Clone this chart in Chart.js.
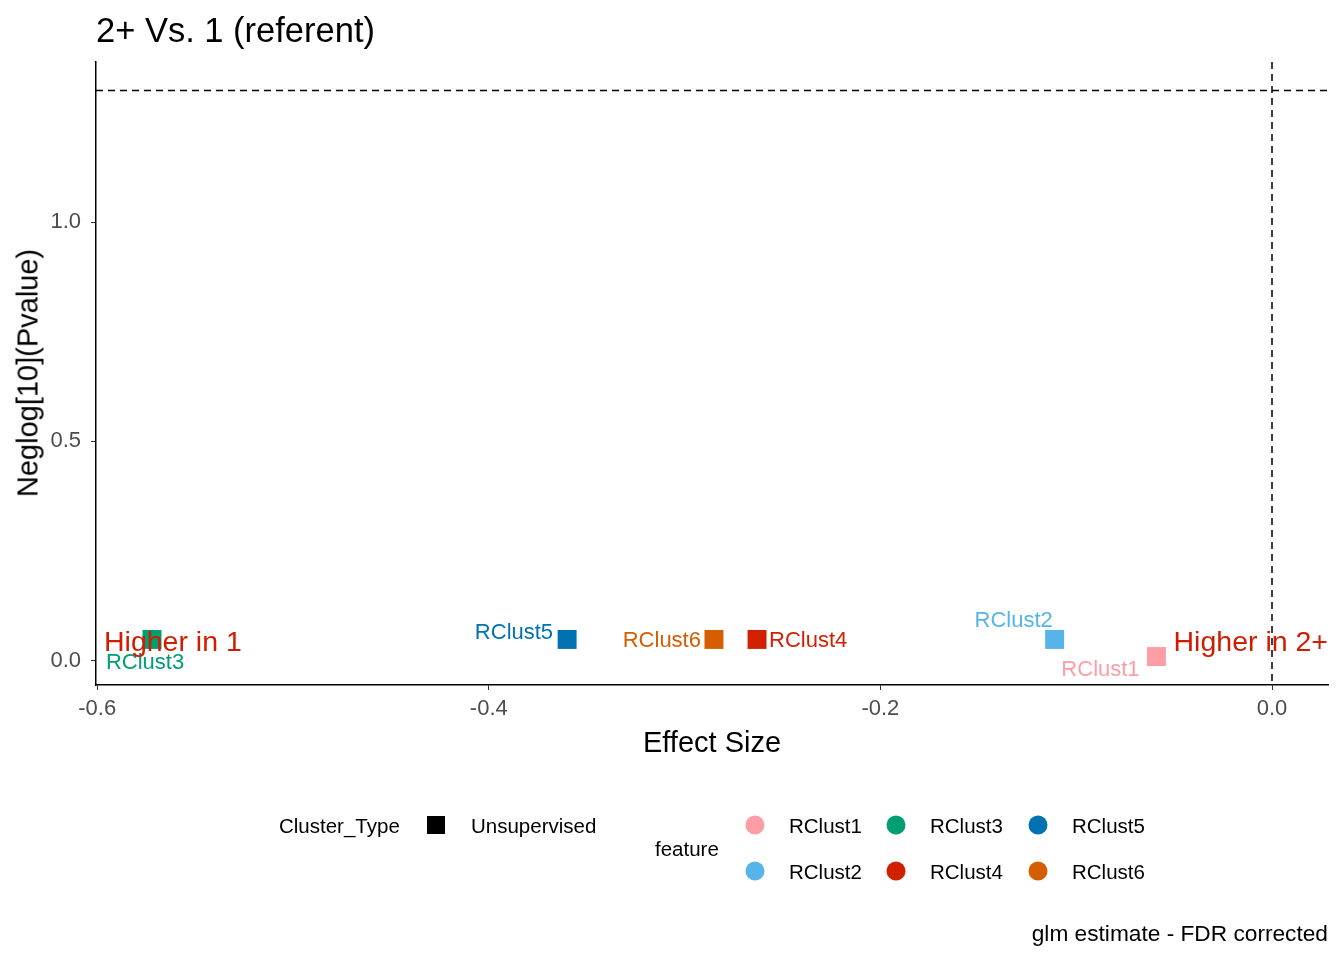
<!DOCTYPE html>
<html lang="en">
<head>
    <meta charset="UTF-8">
    <title>2+ Vs. 1 (referent)</title>
    <script src="https://cdn.jsdelivr.net/npm/chart.js"></script>
    <style>
        body {
            margin: 0;
            background: #fff;
            font-family: "Liberation Sans", Arial, sans-serif;
        }
        .wrap {
            position: relative;
            width: 1344px;
            height: 960px;
        }
        .wrap canvas {
            position: absolute;
            left: 0;
            top: 0;
        }
        .txt {
            position: absolute;
            white-space: nowrap;
            color: #000;
            line-height: 1;
        }
        .plot-title { left: 96px; top: 13px; font-size: 34.5px; }
        .x-title { left: 712px; top: 728px; font-size: 29px; transform: translateX(-50%); }
        .y-title {
            left: 28px; top: 373px; font-size: 29px;
            transform: translate(-50%, -50%) rotate(-90deg);
        }
        .caption { right: 16px; top: 922px; font-size: 22.7px; }
        .lg-text { font-size: 20.5px; transform: translateY(-50%); }
        .lg-box {
            position: absolute; width: 18px; height: 18px; background: #000;
            transform: translate(-50%, -50%);
        }
        .lg-dot {
            position: absolute; width: 19px; height: 19px; border-radius: 50%;
            transform: translate(-50%, -50%);
        }
    </style>
</head>
<body>

<div class="wrap" id="wrap">
    <canvas id="chart" width="1344" height="960"></canvas>
    <div class="txt plot-title">2+ Vs. 1 (referent)</div>
    <div class="txt x-title">Effect Size</div>
    <div class="txt y-title">Neglog[10](Pvalue)</div>
    <div class="txt caption">glm estimate - FDR corrected</div>

    <div class="txt lg-text" style="left:279px; top:826px;">Cluster_Type</div>
    <div class="lg-box" style="left:436px; top:825px;"></div>
    <div class="txt lg-text" style="left:471px; top:826px;">Unsupervised</div>
    <div class="txt lg-text" style="left:655px; top:849px;">feature</div>
    <div id="featureLegend"></div>
</div>

<script>
    // data
    const features = ['RClust1', 'RClust2', 'RClust3', 'RClust4', 'RClust5', 'RClust6'];
    const effectSize = [-0.059, -0.111, -0.572, -0.263, -0.360, -0.285];
    const negLogP = [0.009, 0.048, 0.048, 0.048, 0.048, 0.048];
    const featureColors = ['#FF9DA7', '#56B4E9', '#009E73', '#D21F00', '#0072B2', '#D55E00'];

    const xTicks = [-0.6, -0.4, -0.2, 0.0];
    const yTicks = [0.0, 0.5, 1.0];
    const pCutoff = -Math.log10(0.05);

    // label placement around each point (pixels), like ggrepel did it
    const labelNudge = {
        RClust1: { dx: -56, dy: 13, align: 'center' },
        RClust2: { dx: -41, dy: -18, align: 'center' },
        RClust3: { dx: -7, dy: 24, align: 'center' },
        RClust4: { dx: 12, dy: 2, align: 'left' },
        RClust5: { dx: -14, dy: -6, align: 'right' },
        RClust6: { dx: -13, dy: 2, align: 'right' }
    };

    const FONT = '"Liberation Sans", Arial, sans-serif';
    const textRed = '#D01C00';

    const ctx = document.getElementById('chart').getContext('2d');

    const datasets = features.map((f, i) => ({
        label: f,
        data: [{ x: effectSize[i], y: negLogP[i] }],
        pointStyle: 'rect',
        pointRadius: 13.4,
        pointHoverRadius: 13.4,
        backgroundColor: featureColors[i],
        borderColor: featureColors[i],
        borderWidth: 0
    }));

    const overlay = {
        id: 'overlay',
        beforeDatasetsDraw(chart) {
            const c = chart.ctx;
            const xs = chart.scales.x, ys = chart.scales.y;
            const area = chart.chartArea;
            c.save();
            c.strokeStyle = '#000';
            c.lineWidth = 1.5;
            c.setLineDash([7, 5]);
            const yy = ys.getPixelForValue(pCutoff);
            c.beginPath();
            c.moveTo(area.left, yy);
            c.lineTo(area.right, yy);
            c.stroke();
            const xx = xs.getPixelForValue(0);
            c.beginPath();
            c.moveTo(xx, area.top);
            c.lineTo(xx, area.bottom);
            c.stroke();
            c.restore();
        },
        afterDatasetsDraw(chart) {
            const c = chart.ctx;
            const xs = chart.scales.x, ys = chart.scales.y;
            const area = chart.chartArea;
            c.save();
            c.textBaseline = 'middle';
            c.font = '22px ' + FONT;
            features.forEach((f, i) => {
                const n = labelNudge[f];
                c.fillStyle = featureColors[i];
                c.textAlign = n.align;
                c.fillText(f, xs.getPixelForValue(effectSize[i]) + n.dx, ys.getPixelForValue(negLogP[i]) + n.dy);
            });
            c.font = '28.5px ' + FONT;
            c.fillStyle = textRed;
            const yText = ys.getPixelForValue(0.04);
            c.textAlign = 'left';
            c.fillText('Higher in 1', area.left + 8, yText);
            c.textAlign = 'right';
            c.fillText('Higher in 2+', area.right, yText);
            c.restore();
        }
    };

    new Chart(ctx, {
        type: 'scatter',
        data: { datasets: datasets },
        options: {
            responsive: false,
            animation: false,
            events: [],
            layout: { padding: { left: 0, right: 16, top: 62, bottom: 235 } },
            plugins: {
                legend: { display: false },
                tooltip: { enabled: false }
            },
            scales: {
                x: {
                    type: 'linear',
                    min: -0.6006,
                    max: 0.0286,
                    afterBuildTicks: s => { s.ticks = xTicks.map(v => ({ value: v })); },
                    afterFit: s => { s.height = 40; },
                    ticks: {
                        color: '#4D4D4D',
                        font: { family: FONT, size: 22 },
                        padding: 6,
                        maxRotation: 0,
                        callback: v => v.toFixed(1)
                    },
                    grid: { drawOnChartArea: false, drawTicks: true, tickLength: 5, color: '#333' },
                    border: { display: true, color: '#000', width: 1.5 }
                },
                y: {
                    type: 'linear',
                    min: -0.056,
                    max: 1.366,
                    afterBuildTicks: s => { s.ticks = yTicks.map(v => ({ value: v })); },
                    afterFit: s => { s.width = 96; },
                    ticks: {
                        color: '#4D4D4D',
                        font: { family: FONT, size: 22 },
                        padding: 10,
                        callback: v => v.toFixed(1)
                    },
                    grid: { drawOnChartArea: false, drawTicks: true, tickLength: 5, color: '#333' },
                    border: { display: true, color: '#000', width: 1.5 }
                }
            }
        },
        plugins: [overlay]
    });

    // feature legend, 2 rows by 3 columns filled column-wise
    function buildFeatureLegend() {
        const holder = document.getElementById('featureLegend');
        const colX = [755, 896, 1038];
        const rowY = [825, 871];
        features.forEach((f, i) => {
            const cx = colX[Math.floor(i / 2)];
            const cy = rowY[i % 2];
            const dot = document.createElement('div');
            dot.className = 'lg-dot';
            dot.style.left = cx + 'px';
            dot.style.top = cy + 'px';
            dot.style.background = featureColors[i];
            holder.appendChild(dot);
            const t = document.createElement('div');
            t.className = 'txt lg-text';
            t.style.left = (cx + 34) + 'px';
            t.style.top = (cy + 1) + 'px';
            t.textContent = f;
            holder.appendChild(t);
        });
    }
    buildFeatureLegend();
</script>

</body>
</html>
